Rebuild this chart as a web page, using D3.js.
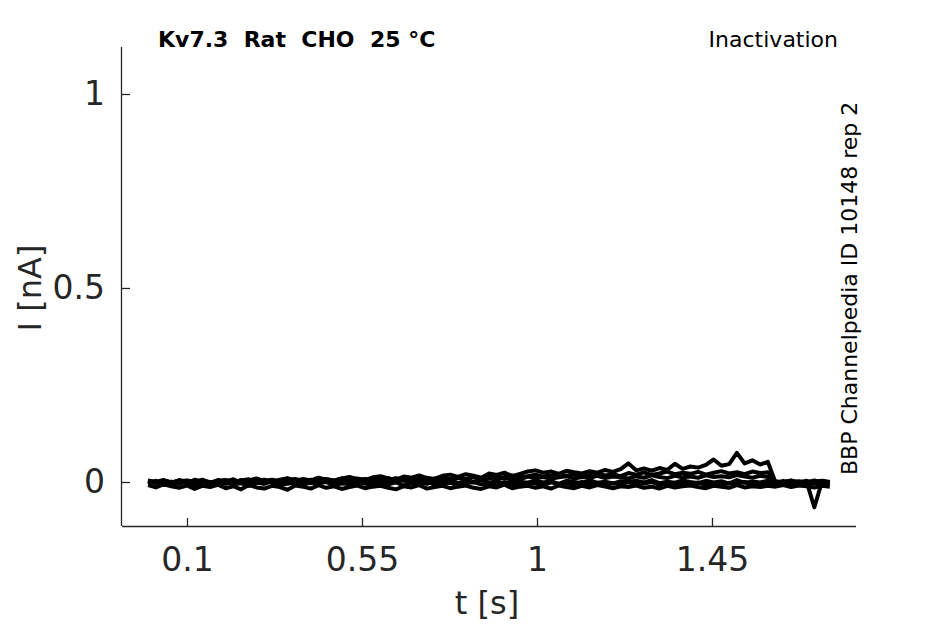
<!DOCTYPE html>
<html>
<head>
<meta charset="utf-8">
<script src="https://cdn.jsdelivr.net/npm/d3@7"></script>
<style>
  body { margin: 0; background: #fff; }
  text { font-family: "DejaVu Sans", sans-serif; white-space: pre; }
</style>
</head>
<body>
<div id="chart"></div>
<script>
// recorded sweeps, sampled on a regular grid from 0 to 1.753 s
// values in pA, drawn in nA
var sweepStart = 0;
var sweepEnd = 1.753;
var sweepA = [2,-3,4,-1,3,-4,6,0,-2,5,
  1,7,-2,4,9,2,-1,6,10,3,
  8,4,11,6,2,9,13,7,5,12,
  15,9,6,14,11,17,10,8,16,19,
  13,20,16,11,22,18,24,15,21,27,
  30,24,27,21,29,25,22,28,24,31,
  26,33,48,30,35,29,36,31,47,34,
  40,37,44,58,42,46,75,48,56,45,
  52,-2,3,-4,2,-1,4,-3,1];
var sweepB = [-2,3,-5,1,-3,2,-6,3,0,-4,
  3,-2,5,0,-3,4,1,-2,6,2,
  -1,5,2,7,3,0,6,9,4,2,
  8,5,10,3,7,11,6,9,13,8,
  11,7,14,10,16,9,13,17,12,15,
  19,14,17,21,16,20,13,18,22,17,
  20,15,23,19,25,18,22,27,20,24,
  21,26,19,24,28,22,25,20,27,23,
  25,1,-3,2,-1,3,-2,2,-1];
var sweepF = [3,0,5,-1,2,4,1,6,-2,3,
  5,1,4,7,0,3,6,2,5,8,
  3,6,1,7,4,9,2,5,8,4,
  6,10,3,7,9,5,11,6,8,4,
  10,7,12,6,9,13,8,11,7,14,
  10,13,8,12,15,9,13,11,16,10,
  14,12,9,15,11,17,13,10,16,12,
  14,11,17,13,15,12,18,14,11,16,
  13,2,-1,3,0,-2,1,3,0];
var sweepC = [4,-1,2,-3,5,0,-4,3,-2,1,
  -5,2,-1,4,-3,6,-2,1,-4,3,
  0,-3,5,-1,2,-4,3,-2,6,-1,
  2,-4,1,5,-2,3,-5,2,0,4,
  -3,1,-1,6,-2,2,-4,3,1,-2,
  4,-1,2,-5,3,0,-3,5,-2,1,
  -4,2,0,3,-1,5,-3,1,-2,4,
  0,-3,3,-1,2,-4,5,-2,1,-1,
  3,-2,0,4,-3,1,-65,2,-1];
var sweepE = [-6,1,-8,-2,-5,3,-9,-1,-4,-7,
  0,-6,-3,-10,-1,-5,2,-8,-4,-2,
  -7,-1,-5,1,-9,-3,-6,0,-4,-8,
  -2,-6,-1,-9,-3,-5,1,-7,-4,-2,
  -8,-3,0,-6,-4,-9,-1,-5,-7,-2,
  -4,-8,-1,-5,-3,-7,0,-6,-2,-9,
  -3,-5,-1,-7,-4,0,-8,-2,-6,-3,
  -5,-1,-7,-3,-9,-2,-4,0,-6,-3,
  -5,-2,-7,-1,-4,-6,-3,-5,-2];
var sweepD = [-8,-14,-6,-11,-15,-9,-18,-10,-13,-7,
  -16,-11,-19,-8,-14,-17,-10,-13,-20,-9,
  -12,-17,-8,-15,-11,-18,-13,-9,-16,-12,
  -10,-15,-19,-11,-14,-8,-17,-13,-10,-16,
  -12,-9,-15,-18,-11,-14,-7,-16,-12,-10,
  -15,-11,-17,-9,-13,-16,-10,-14,-8,-12,
  -16,-11,-13,-9,-15,-12,-17,-10,-14,-11,
  -9,-13,-16,-10,-12,-15,-8,-14,-11,-13,
  -10,-12,-8,-13,-9,-11,-14,-10,-12];
var sweeps = [sweepD, sweepE, sweepC, sweepF, sweepB, sweepA];

var xTicks = [0.1, 0.55, 1, 1.45];
var yTicks = [0, 0.5, 1];
var titleText = "Kv7.3  Rat  CHO  25 \u00B0C";
var protocolText = "Inactivation";
var sourceText = "BBP Channelpedia ID 10148 rep 2";

var width = 945, height = 624;
// plot box edges
var boxLeft = 122, boxRight = 856, boxTop = 47, boxBottom = 526;
var axisColor = "#262626";

var svg = d3.select("#chart").append("svg")
  .attr("width", width).attr("height", height);

var xScale = d3.scaleLinear()
  .domain([-0.0671, 1.8203])
  .range([boxLeft, boxRight]);
var yScale = d3.scaleLinear()
  .domain([-0.1134, 1.1211])
  .range([boxBottom, boxTop]);

// traces
var nPts = sweepA.length;
var line = d3.line()
  .x(function(d, i) { return xScale(sweepStart + i * (sweepEnd - sweepStart) / (nPts - 1)); })
  .y(function(d) { return yScale(d / 1000); });

svg.append("g").selectAll("path").data(sweeps).enter()
  .append("path")
  .attr("d", line)
  .attr("fill", "none")
  .attr("stroke", "#000")
  .attr("stroke-width", 4)
  .attr("stroke-linejoin", "round");

// axes, ticks point inward
var xAxis = d3.axisBottom(xScale).tickValues(xTicks).tickSize(-8).tickPadding(22)
  .tickFormat(function(d) { return String(d); });
var yAxis = d3.axisLeft(yScale).tickValues(yTicks).tickSize(-8).tickPadding(17)
  .tickFormat(function(d) { return String(d); });

var gx = svg.append("g").attr("transform", "translate(0," + boxBottom + ")").call(xAxis);
var gy = svg.append("g").attr("transform", "translate(" + boxLeft + ",0)").call(yAxis);

[gx, gy].forEach(function(g) {
  g.select(".domain").attr("stroke", axisColor).attr("stroke-width", 1.3);
  g.selectAll(".tick line").attr("stroke", axisColor).attr("stroke-width", 1.3);
  g.selectAll(".tick text").attr("fill", axisColor)
    .style("font-family", "DejaVu Sans").style("font-size", "33px");
});
// domain lines without end caps
gx.select(".domain").attr("d", "M" + boxLeft + ",0.5H" + boxRight);
gy.select(".domain").attr("d", "M-0.5," + boxTop + "V" + boxBottom);
gx.selectAll(".tick text").attr("dy", "0.71em");

// axis labels
svg.append("text")
  .attr("x", 487).attr("y", 614)
  .attr("text-anchor", "middle").attr("fill", axisColor)
  .style("font-size", "32px").text("t [s]");
svg.append("text")
  .attr("transform", "translate(41,288)rotate(-90)")
  .attr("text-anchor", "middle").attr("fill", axisColor)
  .style("font-size", "32px").text("I [nA]");

// titles
svg.append("text")
  .attr("x", 158).attr("y", 47)
  .style("font-size", "22px").style("font-weight", "bold")
  .attr("fill", "#000").text(titleText);
svg.append("text")
  .attr("x", 838).attr("y", 47).attr("text-anchor", "end")
  .style("font-size", "22px").attr("fill", "#000").text(protocolText);
svg.append("text")
  .attr("transform", "translate(857,475)rotate(-90)")
  .style("font-size", "22px").attr("fill", "#000").text(sourceText);
</script>
</body>
</html>
